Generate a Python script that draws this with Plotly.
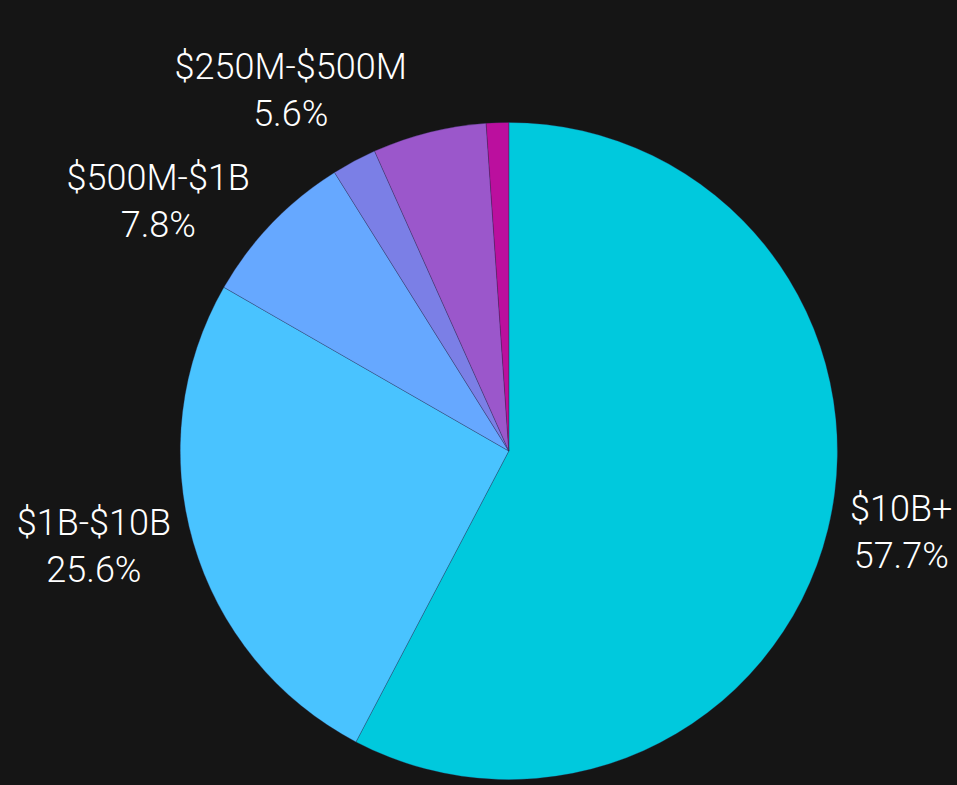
import plotly.graph_objects as go

labels = ["$10B+", "$1B-$10B", "$500M-$1B", "$100M-$250M", "$250M-$500M", "<$100M"]
values = [57.7, 25.6, 7.8, 2.2, 5.6, 1.1]
colors = ["#00C9DD", "#49C3FF", "#66A8FF", "#7B7FE6", "#9B57CB", "#BB0F9E"]
shown = [True, True, True, False, True, False]

templates = ["%{label}<br>%{percent}" if s else "" for s in shown]

fig = go.Figure(go.Pie(
    labels=labels,
    values=values,
    sort=False,
    direction="clockwise",
    rotation=0,
    marker=dict(colors=colors, line=dict(color="rgba(40,40,80,0.5)", width=0.6)),
    texttemplate=templates,
    textposition="outside",
    outsidetextfont=dict(family="Roboto", size=36, color="#FFFFFF", weight=300),
    showlegend=False,
    hoverinfo="label+percent",
    domain=dict(x=[0.1897, 0.8815], y=[0.0, 0.8435]),
))

fig.update_layout(
    width=957,
    height=785,
    margin=dict(l=0, r=0, t=0, b=0),
    paper_bgcolor="#151515",
    plot_bgcolor="#151515",
    font=dict(family="Roboto", color="#FFFFFF"),
)

fig.write_html("out.html", config={"displayModeBar": False})

with open("out.html", "r", encoding="utf-8") as f:
    html = f.read()
html = html.replace(
    "<head>",
    "<head><style>html,body{margin:0;padding:0;background:#151515;overflow:hidden;}</style>",
    1,
)
with open("out.html", "w", encoding="utf-8") as f:
    f.write(html)
